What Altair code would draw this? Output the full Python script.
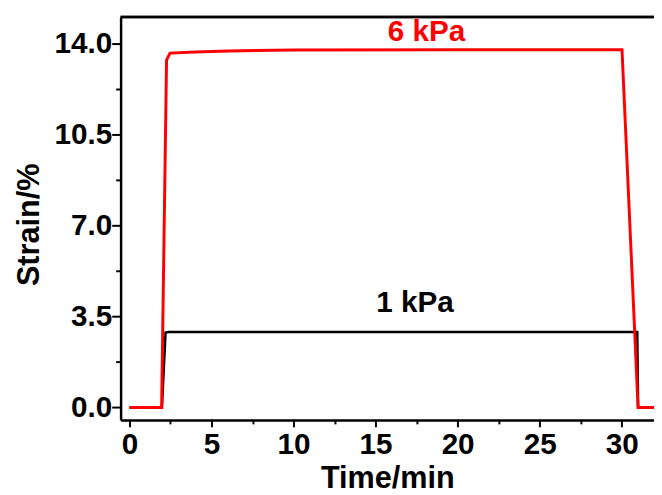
import altair as alt
import pandas as pd

# --- data ---
red_time = [0, 1.96, 2.26, 2.47, 4, 6, 10, 20, 30.02, 31.0, 32.5]
red_strain = [0, 0, 13.35, 13.62, 13.66, 13.70, 13.74, 13.75, 13.75, 0, 0]
black_time = [0, 1.98, 2.2, 2.4, 30.95, 31.0, 32.5]
black_strain = [0, 0, 2.88, 2.90, 2.90, 0, 0]
label_text = ["6 kPa", "1 kPa"]
label_time = [18.1, 17.4]
label_strain = [14.41, 4.0]
label_color = ["#ff0000", "#000000"]
x_ticks = [0, 2.5, 5, 7.5, 10, 12.5, 15, 17.5, 20, 22.5, 25, 27.5, 30]
y_ticks = [0, 1.75, 3.5, 5.25, 7.0, 8.75, 10.5, 12.25, 14.0]

red_df = pd.DataFrame({"t": red_time, "s": red_strain})
black_df = pd.DataFrame({"t": black_time, "s": black_strain})
lab_df = pd.DataFrame({"t": label_time, "s": label_strain, "txt": label_text, "c": label_color})

FONT = "Liberation Sans"
xscale = alt.Scale(domain=[-0.54, 31.97], nice=False, zero=False)
yscale = alt.Scale(domain=[-0.48, 15.01], nice=False, zero=False)

x_axis = alt.Axis(
    values=x_ticks,
    labelExpr="datum.value % 5 == 0 ? format(datum.value, 'd') : ''",
    title="Time/min",
    tickSize={"condition": {"test": "datum.value % 5 != 0", "value": 4}, "value": 7},
    labelPadding=3, labelOverlap=False, labelFlush=False, grid=False,
    titleY=44, titleBaseline="top",
)
y_axis = alt.Axis(
    values=y_ticks,
    labelExpr="datum.value % 3.5 == 0 ? format(datum.value, '.1f') : ''",
    title="Strain/%",
    tickSize={"condition": {"test": "datum.value % 3.5 != 0", "value": 5}, "value": 9},
    labelPadding=0, labelOverlap=False, labelFlush=False, grid=False,
    titleX=-92, titleY=210, titleAngle=270, titleAlign="center", titleBaseline="middle",
)

X = alt.X("t:Q", scale=xscale, axis=x_axis)
Y = alt.Y("s:Q", scale=yscale, axis=y_axis)

black = alt.Chart(black_df).mark_line(color="black", strokeWidth=2.5, clip=True).encode(x=X, y=Y)
red = alt.Chart(red_df).mark_line(color="#ff0000", strokeWidth=3, clip=True).encode(x=X, y=Y)
labels = alt.Chart(lab_df).mark_text(
    font=FONT, fontSize=30, fontWeight="bold", align="center", baseline="middle"
).encode(
    x=X, y=Y,
    text="txt:N",
    color=alt.Color("c:N", scale=None),
)
# top frame line of the plot area
top_frame = alt.Chart(lab_df).mark_rule(color="black", strokeWidth=2.5).encode(
    x=alt.value(0), x2=alt.value(540), y=alt.value(0)
)

chart = alt.layer(black, red, labels, top_frame).properties(
    width=540, height=408,
    autosize=alt.AutoSizeParams(type="none"),
    padding={"left": 114, "top": 6, "right": 0, "bottom": 73},
).configure_view(stroke=None).configure_axis(
    domainColor="black", domainWidth=2.5, tickColor="black", tickWidth=2,
    labelFont=FONT, labelFontWeight="bold", labelFontSize=30, labelColor="black",
    titleFont=FONT, titleFontWeight="bold", titleFontSize=31, titleColor="black",
)

chart.save("out.html", embed_options={"renderer": "svg", "actions": False})
